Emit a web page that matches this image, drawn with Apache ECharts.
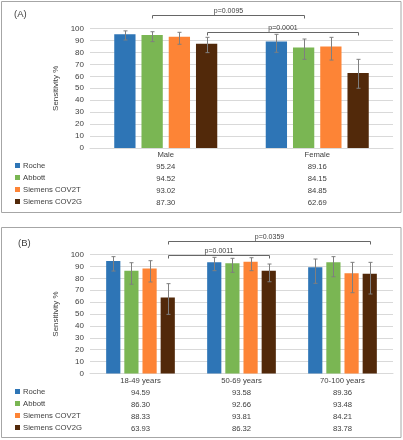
<!DOCTYPE html>
<html><head><meta charset="utf-8">
<script src="https://cdn.jsdelivr.net/npm/echarts@6/dist/echarts.min.js"></script>
<style>html,body{margin:0;padding:0;background:#fff}#c{width:403px;height:440px}</style>
</head><body><div id="c"></div>
<script>
// ---------- data ----------
const assays = ['Roche', 'Abbott', 'Siemens COV2T', 'Siemens COV2G'];
const sexCats = ['Male', 'Female'];
const ageCats = ['18-49 years', '50-69 years', '70-100 years'];
const yTicks = [0, 100, 10]; // min, max, interval

const sexRoche = [95.24, 89.16];
const sexAbbott = [94.52, 84.15];
const sexCOV2T = [93.02, 84.85];
const sexCOV2G = [87.30, 62.69];
const sexLow = [[90.4, 80.1], [89.0, 74.2], [86.8, 73.6], [79.8, 50.0]];
const sexHigh = [[98.0, 95.1], [97.3, 91.2], [96.8, 92.6], [92.6, 74.2]];

const ageRoche = [94.59, 93.58, 89.36];
const ageAbbott = [86.30, 92.66, 93.48];
const ageCOV2T = [88.33, 93.81, 84.21];
const ageCOV2G = [63.93, 86.32, 83.78];
const ageLow = [[86.1, 86.4, 75.8], [75.0, 85.0, 81.3], [76.9, 86.4, 67.9], [49.7, 77.1, 66.8]];
const ageHigh = [[98.2, 97.6, 96.2], [93.1, 96.8, 98.2], [94.8, 97.3, 93.4], [75.5, 92.0, 93.4]];

// brackets: [category1, assay1, category2, assay2, level]
const sexBrackets = [[0, 1, 1, 1, 110.9], [0, 3, 1, 3, 97.3]];
const sexPLabels = ['p=0.0095', 'p=0.0001'];
const ageBrackets = [[0, 3, 1, 3, 99.6], [0, 3, 2, 3, 111.3]];
const agePLabels = ['p=0.0011', 'p=0.0359'];

// ---------- style ----------
const colors = ['#2e75b6', '#7ab653', '#fd8436', '#52290a'];
const FONT = 'Liberation Sans, Arial, sans-serif';
const TXT = '#404040';
const CAT_GAP = 0.32, BAR_GAP = 0.28;

const sexVals = [sexRoche, sexAbbott, sexCOV2T, sexCOV2G];
const ageVals = [ageRoche, ageAbbott, ageCOV2T, ageCOV2G];

function off(i, bw) {
  const gw = bw * (1 - CAT_GAP);
  const w = gw / (4 + 3 * BAR_GAP);
  return -gw / 2 + w / 2 + i * w * (1 + BAR_GAP);
}

function errItem(params, api) {
  const bw = api.size([1, 0])[0];
  const s = api.value(3);
  const lo = api.coord([api.value(0), api.value(1)]);
  const hi = api.coord([api.value(0), api.value(2)]);
  const x = Math.round(lo[0] + off(s, bw)) + 0.5;
  const st = { stroke: '#7f7f7f', lineWidth: 1 };
  return { type: 'group', children: [
    { type: 'line', shape: { x1: x, y1: hi[1], x2: x, y2: lo[1] }, style: st },
    { type: 'line', shape: { x1: x - 2, y1: hi[1], x2: x + 2, y2: hi[1] }, style: st },
    { type: 'line', shape: { x1: x - 2, y1: lo[1], x2: x + 2, y2: lo[1] }, style: st }
  ]};
}

function bracketItem(labels) {
  return function (params, api) {
    const bw = api.size([1, 0])[0];
    const lv = api.value(4);
    const p1 = api.coord([api.value(0), lv]);
    const p2 = api.coord([api.value(2), lv]);
    const x1 = Math.round(p1[0] + off(api.value(1), bw)) + 0.5;
    const x2 = Math.round(p2[0] + off(api.value(3), bw)) + 0.5;
    const y = Math.round(p1[1]) + 0.5;
    return { type: 'group', children: [
      { type: 'polyline', shape: { points: [[x1, y + 3], [x1, y], [x2, y], [x2, y + 3]] },
        style: { stroke: '#666', lineWidth: 1, fill: null } },
      { type: 'text', style: { text: labels[params.dataIndex], x: (x1 + x2) / 2, y: y - 0.5,
        align: 'center', verticalAlign: 'bottom', fontSize: 7, fill: TXT, fontFamily: FONT } }
    ]};
  };
}

function errData(low, high) {
  const d = [];
  low.forEach((arr, s) => arr.forEach((v, c) => d.push([c, v, high[s][c], s])));
  return d;
}

const xAxes = [], yAxes = [], series = [];
function buildPanel(gi, cats, vals, low, high, brackets, plabels, nameGap) {
  const base = xAxes.length;
  xAxes.push({
    type: 'category', gridIndex: gi, data: cats, position: 'bottom',
    axisLine: { show: true, lineStyle: { color: '#d9d9d9' } }, axisTick: { show: false },
    axisLabel: { interval: 0, margin: 3, fontSize: 7.7, color: TXT, fontFamily: FONT }
  });
  vals.forEach((arr, k) => {
    xAxes.push({
      type: 'category', gridIndex: gi, data: cats, position: 'bottom', offset: 12 * (k + 1),
      axisLine: { show: false, onZero: false }, axisTick: { show: false }, splitLine: { show: false },
      axisLabel: { interval: 0, margin: 3, fontSize: 7.7, color: TXT, fontFamily: FONT,
        formatter: (v, i) => arr[i].toFixed(2) }
    });
  });
  yAxes.push({
    type: 'value', gridIndex: gi, min: yTicks[0], max: yTicks[1], interval: yTicks[2],
    name: 'Sensitivity %', nameLocation: 'middle', nameGap: nameGap,
    nameTextStyle: { fontSize: 8, color: TXT, fontFamily: FONT },
    axisLine: { show: false }, axisTick: { show: false },
    axisLabel: { margin: 6, fontSize: 8, color: TXT, fontFamily: FONT },
    splitLine: { lineStyle: { color: '#d9d9d9', width: 1 } }
  });
  vals.forEach((arr, s) => {
    series.push({
      type: 'bar', name: assays[s], xAxisIndex: base, yAxisIndex: gi, data: arr,
      barCategoryGap: (CAT_GAP * 100) + '%', barGap: (BAR_GAP * 100) + '%',
      itemStyle: { color: colors[s] }, emphasis: { disabled: true }, z: 2
    });
  });
  series.push({
    type: 'custom', xAxisIndex: base, yAxisIndex: gi, renderItem: errItem,
    data: errData(low, high), encode: { x: 0, y: [1, 2] }, z: 5, silent: true
  });
  series.push({
    type: 'custom', xAxisIndex: base, yAxisIndex: gi, renderItem: bracketItem(plabels),
    data: brackets, encode: { x: 0, y: 4 }, z: 6, silent: true, clip: false
  });
}

buildPanel(0, sexCats, sexVals, sexLow, sexHigh, sexBrackets, sexPLabels, 24);
buildPanel(1, ageCats, ageVals, ageLow, ageHigh, ageBrackets, agePLabels, 27);

const legendBase = {
  data: assays, orient: 'vertical', left: 15, padding: 0, itemGap: 0,
  icon: 'rect', itemWidth: 5, itemHeight: 5, selectedMode: false,
  textStyle: { fontSize: 7.7, color: TXT, fontFamily: FONT, lineHeight: 12, padding: [0, 0, 0, -2] }
};

const chart = echarts.init(document.getElementById('c'), null, { renderer: 'canvas' });
chart.setOption({
  animation: false,
  backgroundColor: '#fff',
  grid: [
    { left: 90, right: 10, top: 28.5, height: 119.5 },
    { left: 90, right: 10, top: 254.5, height: 119 }
  ],
  xAxis: xAxes,
  yAxis: yAxes,
  legend: [
    Object.assign({}, legendBase, { top: 159.5 }),
    Object.assign({}, legendBase, { top: 385.5 })
  ],
  series: series,
  graphic: [
    { type: 'rect', shape: { x: 1.5, y: 1.5, width: 399.5, height: 211 }, style: { fill: null, stroke: '#a6a6a6', lineWidth: 1 }, silent: true },
    { type: 'rect', shape: { x: 1.5, y: 227.5, width: 399.5, height: 210 }, style: { fill: null, stroke: '#a6a6a6', lineWidth: 1 }, silent: true },
    { type: 'text', left: 14, top: 9, style: { text: '(A)', fontSize: 9.5, fill: TXT, fontFamily: FONT } },
    { type: 'text', left: 18, top: 238, style: { text: '(B)', fontSize: 9.5, fill: TXT, fontFamily: FONT } }
  ]
});
</script></body></html>
